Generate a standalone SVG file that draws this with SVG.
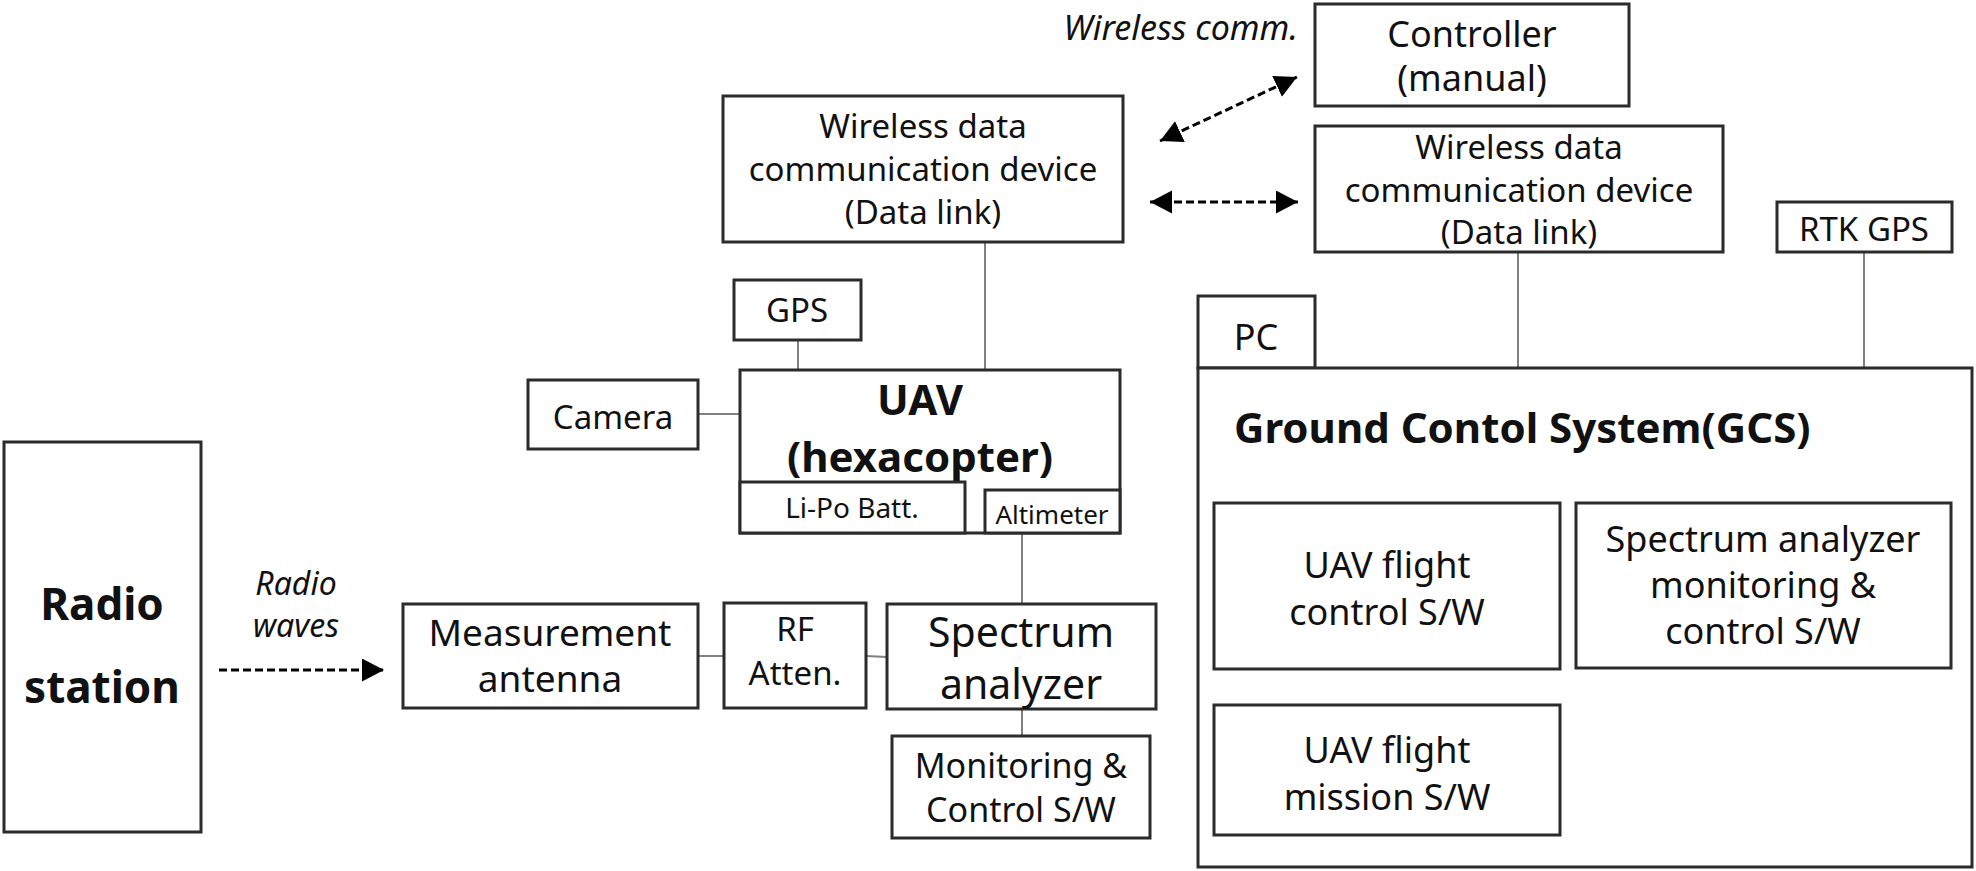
<svg xmlns="http://www.w3.org/2000/svg" width="1976" height="871" viewBox="0 0 1976 871">
<style>
.box{fill:#fff;stroke:#2b2b2b;stroke-width:3}
.t{font-family:"Noto Sans","Liberation Sans",sans-serif;font-size:33px;fill:#111;text-anchor:middle}
.b{font-weight:bold}
.i{font-style:italic}
.ln{stroke:#808080;stroke-width:2;fill:none}
.da{stroke:#000;stroke-width:3;stroke-dasharray:8 4;fill:none}
</style>
<defs>
<marker id="ah" markerUnits="userSpaceOnUse" markerWidth="24" markerHeight="24" refX="22" refY="11.5" orient="auto-start-reverse">
<path d="M0,0 L22,11.5 L0,23 z" fill="#000"/>
</marker>
</defs>
<rect width="1976" height="871" fill="#fff"/>

<g id="connectors">
<line class="ln" x1="985" y1="242" x2="985" y2="378"/>
<line class="ln" x1="798" y1="340" x2="798" y2="370"/>
<line class="ln" x1="698" y1="414" x2="740" y2="414"/>
<line class="ln" x1="1022" y1="533" x2="1022" y2="604"/>
<line class="ln" x1="1022" y1="709" x2="1022" y2="736"/>
<line class="ln" x1="698" y1="656" x2="724" y2="656"/>
<line class="ln" x1="866" y1="656" x2="887" y2="657"/>
<line class="ln" x1="1518" y1="252" x2="1518" y2="368"/>
<line class="ln" x1="1864" y1="252" x2="1864" y2="368"/>
<line class="ln" x1="1387" y1="669" x2="1387" y2="705"/>
<line class="da" x1="1160" y1="141" x2="1297" y2="77" marker-start="url(#ah)" marker-end="url(#ah)"/>
<line class="da" x1="1150" y1="202" x2="1298" y2="202" marker-start="url(#ah)" marker-end="url(#ah)"/>
<line class="da" x1="219" y1="670" x2="384" y2="670" marker-end="url(#ah)"/>
<text class="t i" x="1298" y="40" style="text-anchor:end;font-size:34px">Wireless comm.</text>
<text class="t i" x="296" y="595" style="font-size:32px">Radio</text>
<text class="t i" x="296" y="637" style="font-size:32px">waves</text>
</g>

<g id="radio-station">
<rect class="box" x="4" y="442" width="197" height="390"/>
<text class="t b" x="102" y="620" style="font-size:44px">Radio</text>
<text class="t b" x="102" y="703" style="font-size:44px">station</text>
</g>

<g id="wireless-uav">
<rect class="box" x="723" y="96" width="400" height="146"/>
<text class="t" x="923" y="138">Wireless data</text>
<text class="t" x="923" y="181">communication device</text>
<text class="t" x="923" y="224">(Data link)</text>
</g>

<g id="controller">
<rect class="box" x="1315" y="4" width="314" height="102"/>
<text class="t" x="1472" y="47" style="font-size:36px">Controller</text>
<text class="t" x="1472" y="91" style="font-size:36px">(manual)</text>
</g>

<g id="wireless-gcs">
<rect class="box" x="1315" y="126" width="408" height="126"/>
<text class="t" x="1519" y="159">Wireless data</text>
<text class="t" x="1519" y="202">communication device</text>
<text class="t" x="1519" y="244">(Data link)</text>
</g>

<g id="rtk-gps">
<rect class="box" x="1777" y="202" width="175" height="50"/>
<text class="t" x="1864" y="241">RTK GPS</text>
</g>

<g id="gps">
<rect class="box" x="734" y="280" width="127" height="60"/>
<text class="t" x="797" y="322">GPS</text>
</g>

<g id="camera">
<rect class="box" x="528" y="380" width="170" height="69"/>
<text class="t" x="613" y="429">Camera</text>
</g>

<g id="uav">
<rect class="box" x="740" y="370" width="380" height="163"/>
<text class="t b" x="920" y="415" style="font-size:42px">UAV</text>
<text class="t b" x="920" y="472" style="font-size:42px">(hexacopter)</text>
</g>

<g id="lipo">
<rect class="box" x="740" y="482" width="225" height="51"/>
<text class="t" x="852" y="518" style="font-size:28px">Li-Po Batt.</text>
</g>

<g id="altimeter">
<rect class="box" x="985" y="490" width="135" height="43"/>
<text class="t" x="1052" y="524" style="font-size:26px">Altimeter</text>
</g>

<g id="measurement-antenna">
<rect class="box" x="403" y="604" width="295" height="104"/>
<text class="t" x="550" y="646" style="font-size:37px">Measurement</text>
<text class="t" x="550" y="692" style="font-size:37px">antenna</text>
</g>

<g id="rf-atten">
<rect class="box" x="724" y="603" width="142" height="105"/>
<text class="t" x="795" y="641">RF</text>
<text class="t" x="795" y="685">Atten.</text>
</g>

<g id="spectrum-analyzer">
<rect class="box" x="887" y="604" width="269" height="105"/>
<text class="t" x="1021" y="647" style="font-size:41px">Spectrum</text>
<text class="t" x="1021" y="699" style="font-size:41px">analyzer</text>
</g>

<g id="monitoring-sw">
<rect class="box" x="892" y="736" width="258" height="102"/>
<text class="t" x="1021" y="778" style="font-size:34px">Monitoring &amp;</text>
<text class="t" x="1021" y="822" style="font-size:34px">Control S/W</text>
</g>

<g id="pc">
<rect class="box" x="1198" y="296" width="117" height="72"/>
<text class="t" x="1256" y="350" style="font-size:36px">PC</text>
</g>

<g id="gcs">
<rect class="box" x="1198" y="368" width="774" height="499"/>
<text class="t b" x="1234" y="443" style="font-size:42px;text-anchor:start">Ground Contol System(GCS)</text>
</g>

<g id="flight-control">
<rect class="box" x="1214" y="503" width="346" height="166"/>
<text class="t" x="1387" y="578" style="font-size:36px">UAV flight</text>
<text class="t" x="1387" y="625" style="font-size:36px">control S/W</text>
</g>

<g id="spectrum-monitoring">
<rect class="box" x="1576" y="503" width="375" height="165"/>
<text class="t" x="1763" y="552" style="font-size:36px">Spectrum analyzer</text>
<text class="t" x="1763" y="598" style="font-size:36px">monitoring &amp;</text>
<text class="t" x="1763" y="644" style="font-size:36px">control S/W</text>
</g>

<g id="flight-mission">
<rect class="box" x="1214" y="705" width="346" height="130"/>
<text class="t" x="1387" y="763" style="font-size:36px">UAV flight</text>
<text class="t" x="1387" y="810" style="font-size:36px">mission S/W</text>
</g>
</svg>
